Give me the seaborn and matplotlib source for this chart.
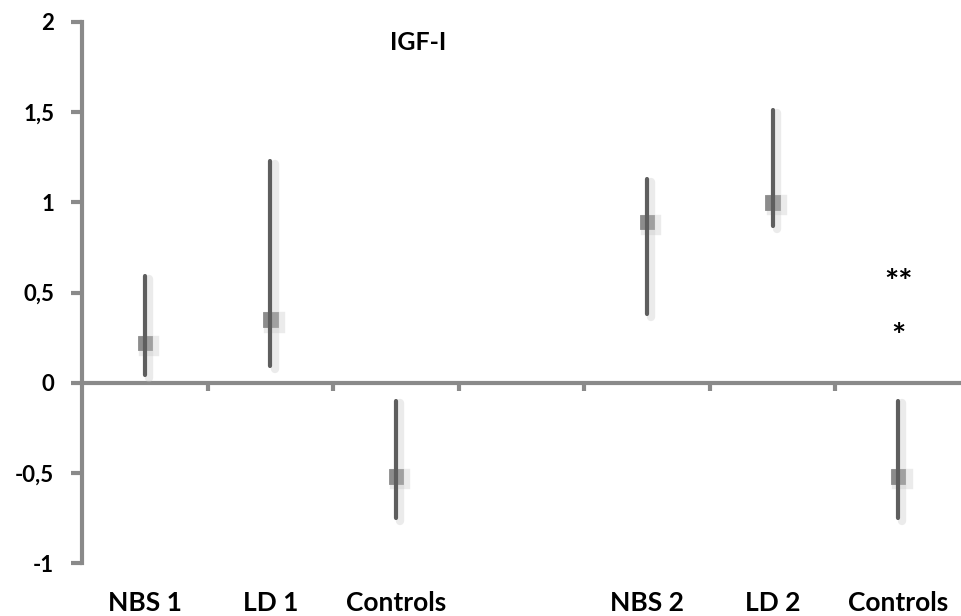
import matplotlib
matplotlib.use("Agg")
import matplotlib.pyplot as plt
import matplotlib.patheffects as pe
from matplotlib.ticker import FuncFormatter, FixedLocator
import numpy as np
import pandas as pd
import seaborn as sns

# ---- data ----
categories = ["NBS 1", "LD 1", "Controls", " ", "NBS 2", "LD 2", "Controls "]
tick_labels = ["NBS 1", "LD 1", "Controls", "", "NBS 2", "LD 2", "Controls"]
groups = ["NBS 1", "LD 1", "Controls", "NBS 2", "LD 2", "Controls "]
means = [0.22, 0.35, -0.52, 0.89, 1.00, -0.52]
lows = [0.04, 0.09, -0.75, 0.38, 0.87, -0.75]
highs = [0.59, 1.23, -0.10, 1.13, 1.51, -0.10]
yticks = [-1, -0.5, 0, 0.5, 1, 1.5, 2]
title = "IGF-I"
sig_marks = ["**", "*"]
sig_y = [0.55, 0.25]

# long-form table: low / mean / high per group -> median = mean, 100% interval = range
rows = []
for g, m, lo, hi in zip(groups, means, lows, highs):
    for v in (lo, m, hi):
        rows.append({"group": g, "value": v})
df = pd.DataFrame(rows)

sns.set_theme(style="white")
plt.rcParams["font.family"] = ["Lato", "DejaVu Sans"]
plt.rcParams["font.weight"] = "bold"

fig = plt.figure(figsize=(9.61, 6.16), dpi=100)
ax = fig.add_axes([82 / 961, 1 - 563 / 616, (961 - 82) / 961, (563 - 22) / 616])

axis_grey = "#8a8a8a"
line_grey = "#5e5e5e"
marker_grey = "#8c8c8c"

sns.pointplot(data=df, x="group", y="value", order=categories,
              estimator="median", errorbar=("pi", 100),
              linestyle="none", marker="s", markersize=9,
              color=marker_grey, capsize=0,
              err_kws={"color": line_grey, "linewidth": 3}, ax=ax)

shadow = [pe.SimpleLineShadow(offset=(3, -2), shadow_color="#c8c8c8", alpha=0.35, linewidth=6),
          pe.Normal()]
for ln in ax.lines:
    ln.set_path_effects(shadow)
    ln.set_zorder(3)

ax.set_xlim(-0.5, len(categories) - 0.5)
ax.set_ylim(-1, 2)
ax.set_xlabel("")
ax.set_ylabel("")

# y axis
ax.yaxis.set_major_locator(FixedLocator(yticks))
ax.yaxis.set_major_formatter(FuncFormatter(lambda v, p: f"{v:g}".replace(".", ",")))
ax.tick_params(axis="y", length=8, width=3, color=axis_grey, pad=12,
               labelsize=16, labelcolor="black", left=True)
for lab in ax.get_yticklabels():
    lab.set_fontweight("bold")

# x labels at the bottom
ax.set_xticks(range(len(categories)))
ax.set_xticklabels(tick_labels, fontsize=19, fontweight="bold")
ax.tick_params(axis="x", length=0, pad=20, labelcolor="black")

for s in ("top", "right", "bottom"):
    ax.spines[s].set_visible(False)
ax.spines["left"].set_color(axis_grey)
ax.spines["left"].set_linewidth(3)

# zero line with category boundary ticks
sec = ax.secondary_xaxis(1 / 3)
sec.set_xticks(np.arange(0.5, len(categories) - 1, 1.0))
sec.set_xticklabels([])
sec.tick_params(axis="x", direction="out", length=6, width=3, color=axis_grey)
sec.spines["bottom"].set_color(axis_grey)
sec.spines["bottom"].set_linewidth(3)
for s in ("top", "left", "right"):
    if s in sec.spines:
        sec.spines[s].set_visible(False)

# significance markers over the last group
for txt, yv in zip(sig_marks, sig_y):
    ax.text(len(categories) - 1, yv, txt, ha="center", va="center",
            fontsize=24, fontweight="bold", color="black")

fig.text(418 / 961, 1 - 42 / 616, title, ha="center", va="center",
         fontsize=18, fontweight="bold", color="black")

fig.savefig("out.png", dpi=100)
